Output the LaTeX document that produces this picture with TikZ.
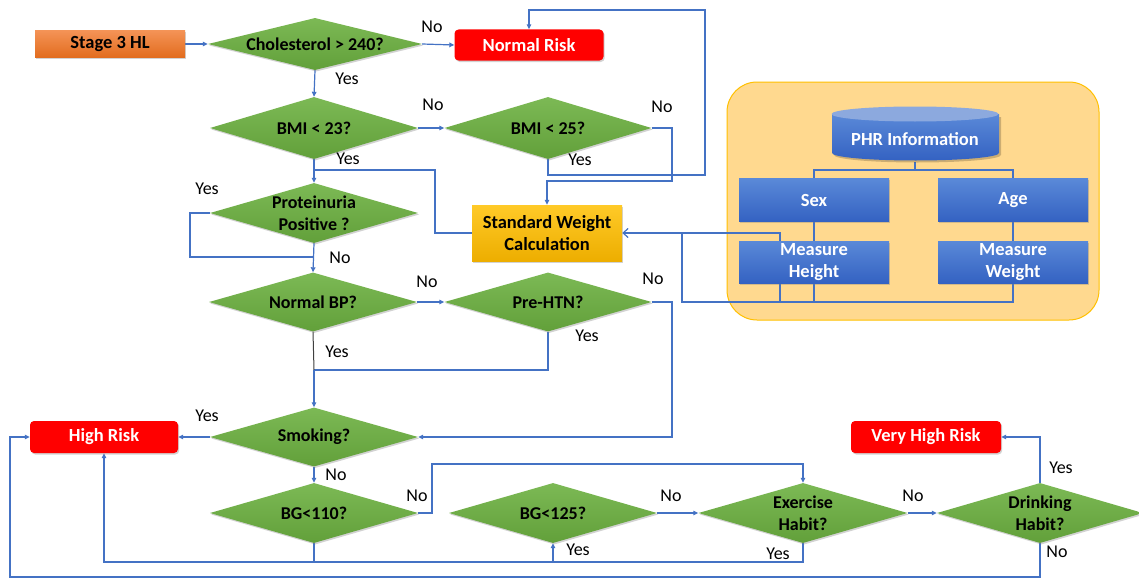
\documentclass[tikz,border=0pt]{standalone}
\usepackage{fontspec}
\setmainfont{Carlito}
\usetikzlibrary{shapes.geometric,arrows.meta,shadows}
\definecolor{lineblue}{HTML}{4472C4}
\definecolor{dgTop}{HTML}{7CB955}
\definecolor{dgBot}{HTML}{62A03A}
\definecolor{orTop}{HTML}{F49356}
\definecolor{orBot}{HTML}{E26C1E}
\definecolor{ylTop}{HTML}{FFCA28}
\definecolor{ylBot}{HTML}{EDAE00}
\definecolor{blTop}{HTML}{5A89D8}
\definecolor{blBot}{HTML}{3462C2}
\definecolor{blLight}{HTML}{8CA9DE}
\definecolor{panelfill}{HTML}{FFD98F}
\definecolor{panelline}{HTML}{FFC000}
\pgfdeclarelayer{panellayer}
\pgfdeclarelayer{linelayer}
\pgfsetlayers{panellayer,linelayer,main}
\begin{document}
\begin{tikzpicture}[x=1pt,y=-1pt,
  shadowed/.style={drop shadow={opacity=0.35,shadow xshift=1.2pt,shadow yshift=-1.5pt}},
  dia/.style={diamond, aspect=3.5, inner sep=0pt, top color=dgTop, bottom color=dgBot,
    font=\bfseries\fontsize{18}{22}\selectfont, align=center, shadowed},
  redbox/.style={rectangle, rounded corners=4pt, fill=red, text=white,
    font=\bfseries\fontsize{18.5}{22}\selectfont, minimum width=149pt, minimum height=31pt, shadowed},
  bluebox/.style={rectangle, top color=blTop, bottom color=blBot, text=white,
    font=\bfseries\fontsize{18.5}{22}\selectfont, align=center,
    minimum width=150pt, minimum height=43pt, inner sep=0pt, shadowed},
  lab/.style={font=\fontsize{18}{20}\selectfont, inner sep=0pt},
  flow/.style={draw=lineblue, line width=1.2pt},
  arr/.style={flow, -{Triangle[length=5pt,width=4.5pt]}},
  oarr/.style={flow, -{Straight Barb[length=5pt,width=9pt]}}
]
\useasboundingbox (0,0) rectangle (1139,578);
\begin{pgfonlayer}{panellayer}
\fill[white] (0,0) rectangle (1139,578);
\end{pgfonlayer}

% ---------- main flow nodes ----------
\node[rectangle, top color=orTop, bottom color=orBot, font=\bfseries\fontsize{18.5}{22}\selectfont,
  minimum width=150pt, minimum height=27pt, inner sep=0pt, shadowed] (stage) at (110,44) {Stage 3 HL};
\node[dia, minimum width=214pt, minimum height=52pt] (chol) at (315,44) {Cholesterol > 240?};
\node[redbox] (normal) at (529,45) {Normal Risk};
\node[dia, minimum width=208pt, minimum height=62pt] (bmi23) at (314,128) {BMI < 23?};
\node[dia, minimum width=207pt, minimum height=62pt] (bmi25) at (548,128) {BMI < 25?};
\node[dia, minimum width=208pt, minimum height=60pt] (prot) at (314,213) {Proteinuria\\Positive ?};
\node[rectangle, top color=ylTop, bottom color=ylBot, font=\bfseries\fontsize{18.5}{22}\selectfont,
  align=center, minimum width=150pt, minimum height=56pt, inner sep=0pt, shadowed]
  (swc) at (547,233) {Standard Weight\\Calculation};
\node[dia, minimum width=208pt, minimum height=59pt] (nbp) at (313,302) {Normal BP?};
\node[dia, minimum width=207pt, minimum height=59pt] (prehtn) at (548,302) {Pre-HTN?};
\node[dia, minimum width=208pt, minimum height=59pt] (smoke) at (314,437) {Smoking?};
\node[redbox, minimum width=148pt, minimum height=32pt] (high) at (104,437) {High Risk};
\node[dia, minimum width=208pt, minimum height=60pt] (bg110) at (314,513) {BG<110?};
\node[dia, minimum width=208pt, minimum height=60pt] (bg125) at (553,513) {BG<125?};
\node[dia, minimum width=209pt, minimum height=60pt] (exer) at (803,513) {Exercise\\Habit?};
\node[dia, minimum width=206pt, minimum height=60pt] (drink) at (1040,513) {Drinking\\Habit?};
\node[redbox, minimum width=150pt, minimum height=32pt] (vhigh) at (926,437) {Very High Risk};

% ---------- PHR panel ----------
\begin{pgfonlayer}{panellayer}
\node[rectangle, rounded corners=30pt, fill=panelfill, draw=panelline, line width=1pt,
  minimum width=372pt, minimum height=238pt] (panel) at (913,201) {};
\end{pgfonlayer}
\fill[black, opacity=0.2] (834,117) -- (834,155) arc (180:0:83.5 and 7.5) -- (1001,117) -- cycle;
\shade[top color=blTop, bottom color=blBot] (832,114) -- (832,153) arc (180:0:83.5 and 7.5) -- (999,114) -- cycle;
\fill[blLight] (915,114) ellipse (83.5 and 7.5);
\node[rectangle, text=white, font=\bfseries\fontsize{18.5}{22}\selectfont,
  minimum width=167pt, minimum height=46pt, inner sep=0pt] (phr) at (915,139) {PHR Information};
\node[bluebox] (sex) at (814,200) {Sex};
\node[bluebox] (age) at (1013,200) {Age};
\node[bluebox, minimum height=42pt] (mheight) at (814,262) {Measure\\Height};
\node[bluebox, minimum height=42pt] (mweight) at (1013,262) {Measure\\Weight};

% ---------- connectors ----------
\begin{pgfonlayer}{linelayer}
\draw[arr] (stage.east) -- (chol.west);
\draw[arr] (chol.east) -- (normal.west);
\draw[arr] (chol.south) -- (bmi23.north);
\draw[arr] (bmi23.east) -- (bmi25.west);
\draw[arr] (bmi25.south) |- (705,175) -- (705,10) -| (normal.north);
\draw[arr] (bmi25.east) -| (672,181) -| (swc.north);
\draw[arr] (bmi23.south) -- (prot.north);
\draw[flow] (swc.west) -| (435,170) -- (314,170);
\draw[flow] (prot.west) -| (190,257) -- (314,257);
\draw[arr] (prot.south) -- (nbp.north);
\draw[arr] (nbp.east) -- (prehtn.west);
\draw[arr] (prehtn.east) -| (672,437) -- (smoke.east);
\draw[flow] (prehtn.south) |- (314,370);
\coordinate (j1) at (314,370);
\draw[draw=black!75, line width=1pt] (nbp.south) -- (j1);
\draw[arr] (j1) -- (smoke.north);
\draw[arr] (smoke.west) -- (high.east);
\draw[arr] (smoke.south) -- (bg110.north);
\draw[arr] (bg110.east) -| (432,464) -| (exer.north);
\draw[arr] (bg110.south) |- (104,562) -- (high.south);
\draw[arr] (exer.south) |- (553,562) -- (bg125.south);
\draw[flow] (314,562) -- (553,562);
\draw[arr] (bg125.east) -- (exer.west);
\draw[arr] (exer.east) -- (drink.west);
\draw[arr] (drink.north) |- (vhigh.east);
\draw[arr] (drink.south) |- (10,577) |- (high.west);
% PHR panel links
\draw[flow] (phr.south) -- (915,170);
\draw[flow] (sex.north) |- (915,170) -| (age.north);
\draw[flow] (sex.south) -- (mheight.north);
\draw[flow] (age.south) -- (mweight.north);
\draw[flow] (mheight.south) -- (814,302);
\draw[oarr] (mweight.south) |- (682,302) |- (swc.east);
\draw[flow] (682,233) -- (780,233) -- (780,302);
\end{pgfonlayer}

% ---------- Yes / No labels ----------
\node[lab] (l1) at (432,27) {No};
\node[lab] (l2) at (347,79) {Yes};
\node[lab] (l3) at (433,105) {No};
\node[lab] (l4) at (662,107) {No};
\node[lab] (l5) at (348,159) {Yes};
\node[lab] (l6) at (580,160) {Yes};
\node[lab] (l7) at (207,189) {Yes};
\node[lab] (l8) at (340,258) {No};
\node[lab] (l9) at (427,282) {No};
\node[lab] (l10) at (653,279) {No};
\node[lab] (l11) at (587,336) {Yes};
\node[lab] (l12) at (337,352) {Yes};
\node[lab] (l13) at (207,416) {Yes};
\node[lab] (l14) at (336,475) {No};
\node[lab] (l15) at (417,496) {No};
\node[lab] (l16) at (671,496) {No};
\node[lab] (l17) at (913,496) {No};
\node[lab] (l18) at (578,550) {Yes};
\node[lab] (l19) at (778,554) {Yes};
\node[lab] (l20) at (1061,468) {Yes};
\node[lab] (l21) at (1057,552) {No};
\end{tikzpicture}
\end{document}
